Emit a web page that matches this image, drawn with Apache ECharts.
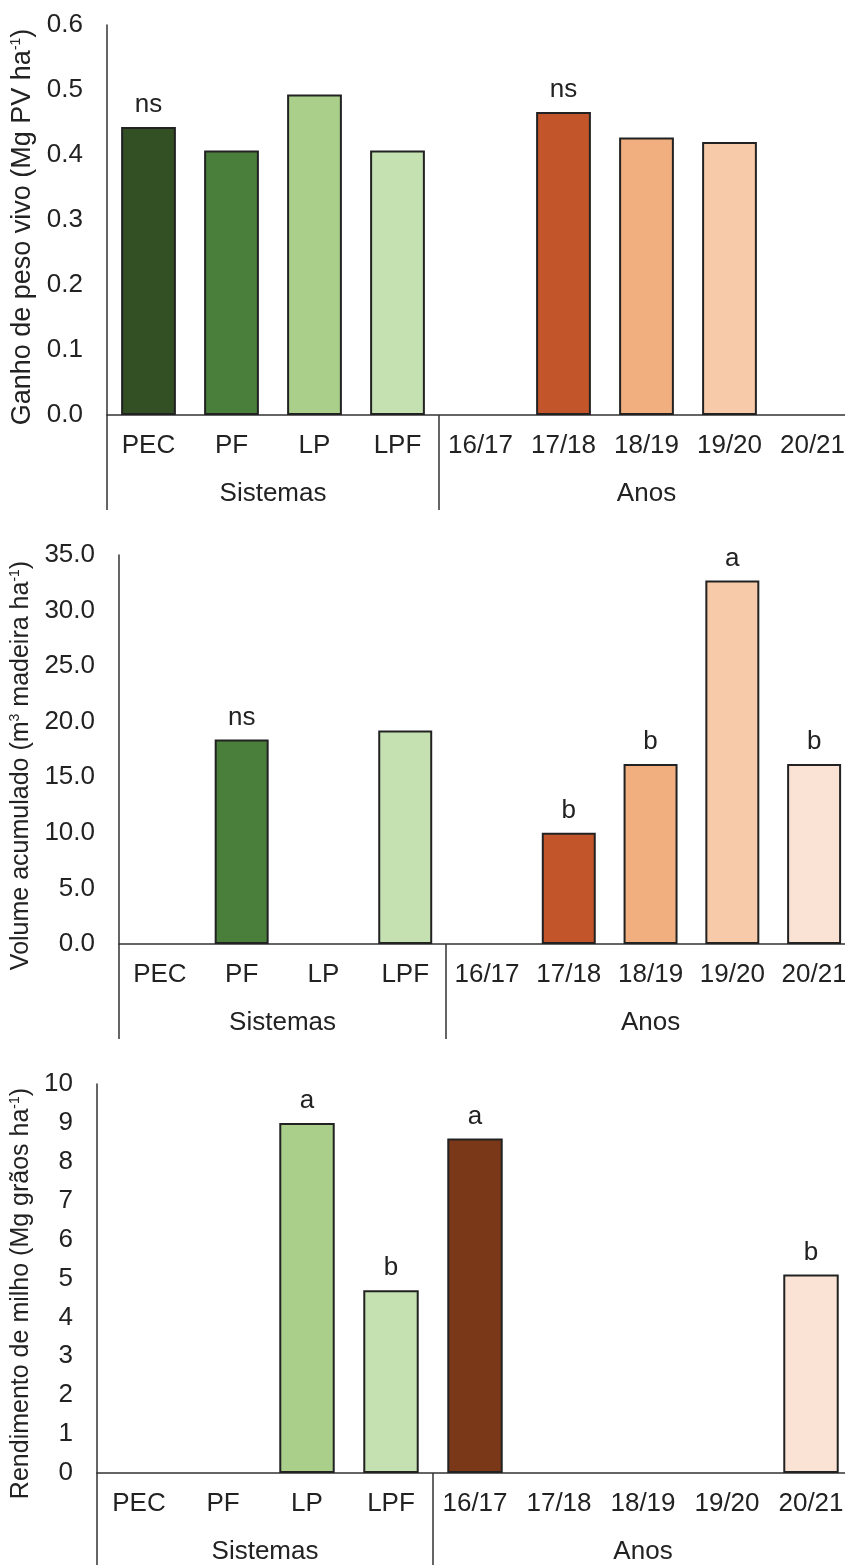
<!DOCTYPE html>
<html>
<head>
<meta charset="utf-8">
<script src="https://cdn.jsdelivr.net/npm/echarts@6/dist/echarts.min.js"></script>
<style>
  html, body { margin: 0; padding: 0; background: #fff; }
  #chartDIV { width: 845px; height: 1565px; }
</style>
</head>
<body>
<div id="chartDIV"></div>
<script>
var categories = ['PEC', 'PF', 'LP', 'LPF', '16/17', '17/18', '18/19', '19/20', '20/21'];
var barColors = ['#334f24', '#4a7e3b', '#a9cf8a', '#c5e0b1', '#7a3819', '#c2552a', '#f1ae7e', '#f7caa9', '#fae3d5'];

// ganho de peso vivo
var ganhoPeso = [0.443, 0.407, 0.493, 0.407, null, 0.466, 0.427, 0.420, null];
var ganhoLetras = ['ns', '', '', '', '', 'ns', '', '', ''];
var ganhoTicks = [0, 0.6, 0.1];

// volume acumulado
var volume = [null, 18.4, null, 19.2, null, 10.0, 16.2, 32.7, 16.2];
var volumeLetras = ['', 'ns', '', '', '', 'b', 'b', 'a', 'b'];
var volumeTicks = [0, 35, 5];

// rendimento de milho
var milho = [null, null, 9.0, 4.7, 8.6, null, null, null, 5.1];
var milhoLetras = ['', '', 'a', 'b', 'a', '', '', '', 'b'];
var milhoTicks = [0, 10, 1];

// grupos do eixo x
var grupos = ['Sistemas', 'Anos'];
var grupoLimites = [0, 4];
var grupoCentros = [2, 6.5];

var fonte = "'Liberation Sans', Arial, sans-serif";
var cor = '#222';

var myChart = echarts.init(document.getElementById('chartDIV'));

var paineis = [
    {left: 107, top: 25, width: 747, height: 390, data: ganhoPeso, letras: ganhoLetras, ticks: ganhoTicks, casas: 1,
        nome: 'Ganho de peso vivo (Mg PV ha{sup|-1})', gap: 67, fs: 27, desloc: 14},
    {left: 119, top: 555, width: 736, height: 389, data: volume, letras: volumeLetras, ticks: volumeTicks, casas: 1,
        nome: 'Volume acumulado (m{sup|3} madeira ha{sup|-1})', gap: 78, fs: 25, desloc: 32},
    {left: 97, top: 1084, width: 756, height: 389, data: milho, letras: milhoLetras, ticks: milhoTicks, casas: 0,
        nome: 'Rendimento de milho (Mg grãos ha{sup|-1})', gap: 57, fs: 25, desloc: 30}
];

var grid = [], xAxis = [], yAxis = [], series = [];
paineis.forEach(function (p, i) {
    grid.push({left: p.left, top: p.top, width: p.width, height: p.height, outerBoundsMode: 'none', containLabel: false});
    xAxis.push({
        type: 'category', gridIndex: i, data: categories,
        axisLine: {lineStyle: {color: '#333', width: 1.5}},
        axisTick: {show: false},
        axisLabel: {color: cor, fontFamily: fonte, fontSize: 26, margin: 18, interval: 0}
    });
    // eixo auxiliar para os grupos (Sistemas / Anos)
    xAxis.push({
        type: 'value', gridIndex: i, min: 0, max: categories.length,
        position: 'bottom',
        axisLine: {show: false},
        splitLine: {show: false},
        axisTick: {show: true, customValues: grupoLimites, length: 95, lineStyle: {color: '#333', width: 1.5}},
        axisLabel: {
            customValues: grupoCentros, color: cor, fontFamily: fonte, fontSize: 26, margin: 66,
            formatter: function (v) { return v === grupoCentros[0] ? grupos[0] : grupos[1]; }
        }
    });
    yAxis.push({
        type: 'value', gridIndex: i, min: p.ticks[0], max: p.ticks[1], interval: p.ticks[2],
        axisLine: {show: true, lineStyle: {color: '#333', width: 1.5}},
        axisTick: {show: false},
        splitLine: {show: false},
        axisLabel: {color: cor, fontFamily: fonte, fontSize: 26, margin: 24,
            formatter: function (v) { return v.toFixed(p.casas); }},
        name: p.nome, nameLocation: 'middle', nameGap: p.gap, nameRotate: 90,
        nameTextStyle: {color: cor, fontFamily: fonte, fontSize: p.fs, padding: [0, p.desloc, 0, 0],
            rich: {sup: {fontSize: 14, verticalAlign: 'top', color: cor, fontFamily: fonte}}}
    });
    series.push({
        type: 'bar', xAxisIndex: i * 2, yAxisIndex: i,
        barWidth: '66%',
        data: p.data.map(function (v, k) {
            return {value: v == null ? '-' : v, itemStyle: {color: barColors[k]}};
        }),
        itemStyle: {borderColor: '#222', borderWidth: 2},
        label: {
            show: true, position: 'top', distance: 9,
            color: cor, fontFamily: fonte, fontSize: 26,
            formatter: function (d) { return p.letras[d.dataIndex]; }
        },
        silent: true,
        animation: false
    });
});

var option = {
    backgroundColor: '#fff',
    animation: false,
    grid: grid,
    xAxis: xAxis,
    yAxis: yAxis,
    series: series
};
myChart.setOption(option);
</script>
</body>
</html>
